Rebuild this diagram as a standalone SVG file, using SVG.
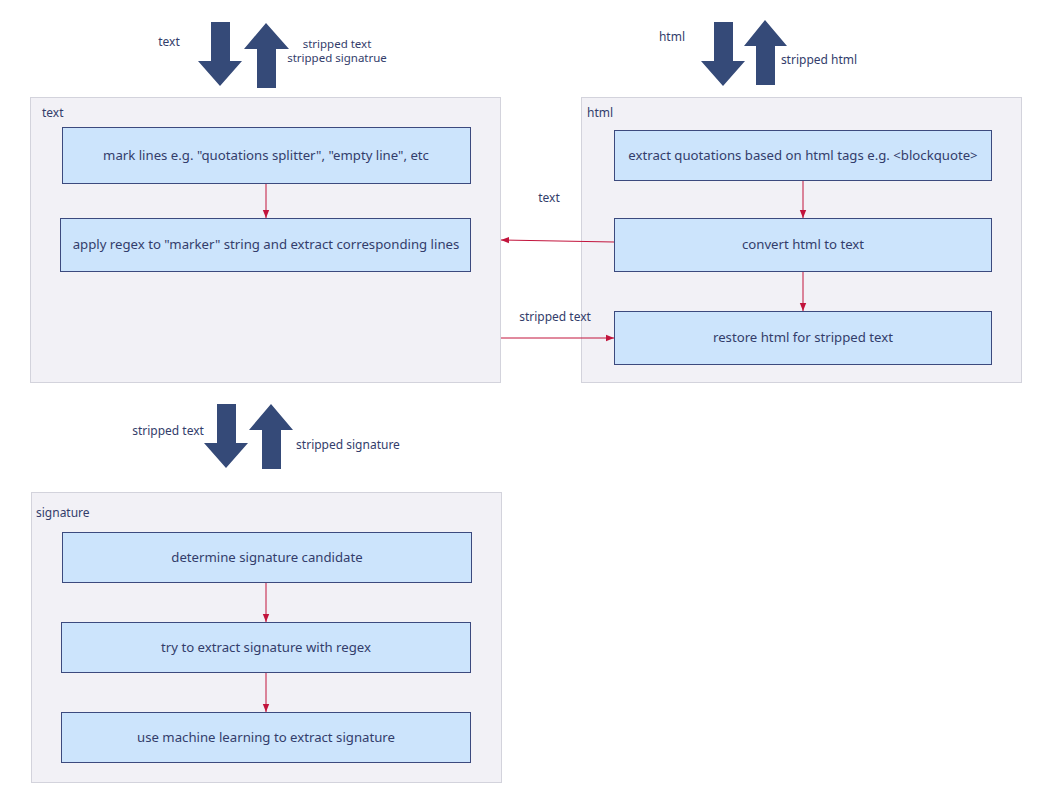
<svg xmlns="http://www.w3.org/2000/svg" width="1056" height="811" viewBox="0 0 1056 811">
<style>
text{font-family:"Noto Sans","DejaVu Sans",sans-serif;font-size:12px;fill:#333d6b}
.s{font-size:11.5px}
.n{font-size:13.2px;text-anchor:middle}
.c{fill:#f2f1f6;stroke:#d3d3dc;stroke-width:1}
.b{fill:#cce4fc;stroke:#3c4a7e;stroke-width:1}
.a{fill:#354a78}
.l{stroke:#c2143c;stroke-width:1;fill:none;marker-end:url(#m)}
</style>
<defs><marker id="m" viewBox="0 0 10 10" refX="10" refY="5" markerWidth="8" markerHeight="8" orient="auto"><path d="M0,1 L10,5 L0,9 z" fill="#c2143c"/></marker></defs>
<rect width="1056" height="811" fill="#fff"/>
<g id="io-text">
<path class="a" d="M211,22 H230 V61 H242 L220,86 L198,61 H211 Z"/>
<path class="a" d="M257,88 H276 V49 H289 L266,23 L244,49 H257 Z"/>
<text x="169" y="46" text-anchor="middle">text</text>
<text class="s" x="337" y="47.500" text-anchor="middle">stripped text</text>
<text class="s" x="337" y="62" text-anchor="middle">stripped signatrue</text>
</g>
<g id="io-html">
<path class="a" d="M714,22 H733 V61 H745 L723,86 L701,61 H714 Z"/>
<path class="a" d="M756,85 H775 V46 H787 L765,20 L744,46 H756 Z"/>
<text x="672" y="41" text-anchor="middle">html</text>
<text x="819" y="64" text-anchor="middle">stripped html</text>
</g>
<g id="io-sig">
<path class="a" d="M217,404 H236 V443 H248 L226,468 L204,443 H217 Z"/>
<path class="a" d="M262,469 H281 V430 H293 L271,404 L249,430 H262 Z"/>
<text x="168" y="435" text-anchor="middle">stripped text</text>
<text x="348" y="449" text-anchor="middle">stripped signature</text>
</g>
<g id="text">
<rect class="c" x="30.500" y="97.500" width="470" height="285"/>
<text x="42" y="117">text</text>
</g>
<g id="html">
<rect class="c" x="581.500" y="97.500" width="440" height="285"/>
<text x="587" y="117">html</text>
</g>
<g id="signature">
<rect class="c" x="31.500" y="492.500" width="470" height="290"/>
<text x="36" y="517">signature</text>
</g>
<g id="mark"><rect class="b" x="62.500" y="127.500" width="408" height="56"/><text class="n" x="266" y="160">mark lines e.g. "quotations splitter", "empty line", etc</text></g>
<g id="regex"><rect class="b" x="60.500" y="218.500" width="410" height="53"/><text class="n" x="266" y="249">apply regex to "marker" string and extract corresponding lines</text></g>
<g id="extract"><rect class="b" x="614.500" y="130.500" width="377" height="50"/><text class="n" x="803" y="160">extract quotations based on html tags e.g. &lt;blockquote&gt;</text></g>
<g id="convert"><rect class="b" x="614.500" y="218.500" width="377" height="53"/><text class="n" x="803" y="249">convert html to text</text></g>
<g id="restore"><rect class="b" x="614.500" y="311.500" width="377" height="53"/><text class="n" x="803" y="342">restore html for stripped text</text></g>
<g id="cand"><rect class="b" x="62.500" y="532.500" width="409" height="50"/><text class="n" x="267" y="562">determine signature candidate</text></g>
<g id="tryre"><rect class="b" x="61.500" y="622.500" width="409" height="50"/><text class="n" x="266" y="652">try to extract signature with regex</text></g>
<g id="ml"><rect class="b" x="61.500" y="712.500" width="409" height="50"/><text class="n" x="266" y="742">use machine learning to extract signature</text></g>
<g id="connectors">
<path class="l" d="M266,184 V218"/>
<path class="l" d="M803,181 V218"/>
<path class="l" d="M803,272 V311"/>
<path class="l" d="M614,242 L501,240"/>
<path class="l" d="M501,338 H614"/>
<path class="l" d="M266,583 V622"/>
<path class="l" d="M266,673 V712"/>
<text x="549" y="202" text-anchor="middle">text</text>
<text x="555" y="321" text-anchor="middle">stripped text</text>
</g>
</svg>
